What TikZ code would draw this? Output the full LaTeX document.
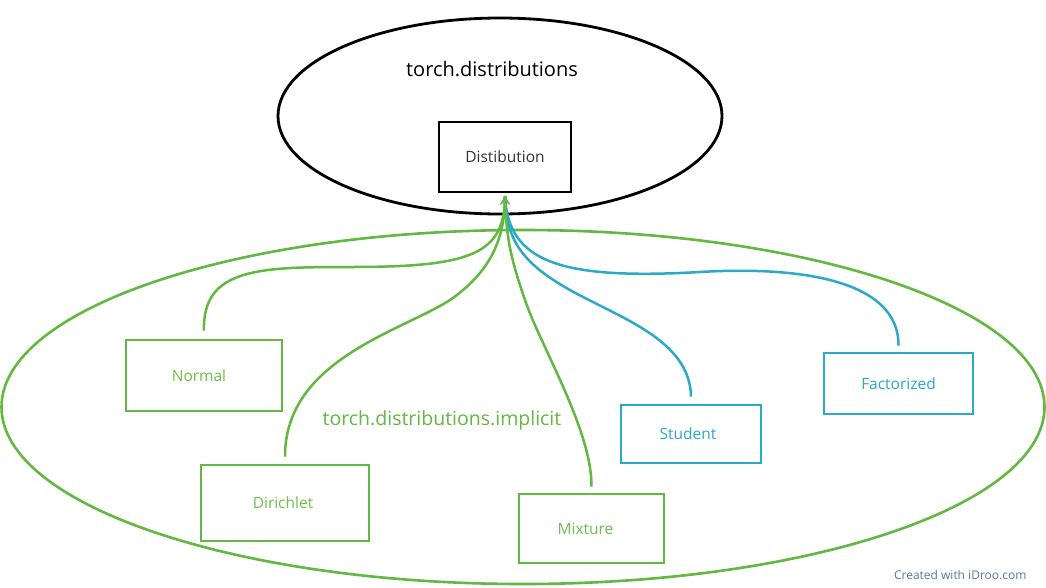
\documentclass[tikz,border=0pt]{standalone}
\usepackage{fontspec}
\setmainfont{Open Sans}
\usetikzlibrary{arrows.meta}
\definecolor{grn}{HTML}{62B840}
\definecolor{grntxt}{HTML}{6CC04C}
\definecolor{blu}{HTML}{2AAAC6}
\definecolor{gry}{HTML}{333333}
\definecolor{wm}{HTML}{5E7A96}
\tikzset{
  gbox/.style={draw=grn,line width=2.8pt,inner sep=0pt,text=grntxt,font=\fontsize{15.5}{18}\selectfont},
  bbox/.style={draw=blu,line width=2.8pt,inner sep=0pt,text=blu,font=\fontsize{15.5}{18}\selectfont},
  glink/.style={draw=grn,line width=2.5pt},
  blink/.style={draw=blu,line width=2.5pt},
}
\begin{document}
\begin{tikzpicture}[x=1pt,y=-1pt]
\useasboundingbox[fill=white] (0,0) rectangle (1046,587);
% outer ellipses
\draw[line width=2.8pt,black] (500,116) ellipse [x radius=222, y radius=98];
\draw[line width=2.6pt,grn] (523,407) ellipse [x radius=521.5, y radius=177];
\node[font=\fontsize{20}{22}\selectfont,text=black] (top) at (492,69) {torch.distributions};
\node[draw=black,line width=2.8pt,minimum width=132pt,minimum height=70pt,inner sep=0pt,text=gry,font=\fontsize{15.5}{18}\selectfont] (dist) at (505,157) {Distibution};
\coordinate (tip) at (505,196);
\node[text=grn,font=\fontsize{19.5}{22}\selectfont] (impl) at (442,420) {torch.distributions.implicit};
% boxes
\node[gbox,minimum width=156pt,minimum height=71pt] (normal) at (204,375.5) {\hspace*{-10pt}Normal};
\node[gbox,minimum width=168pt,minimum height=76pt] (dirichlet) at (285,503) {\hspace*{-4pt}Dirichlet};
\node[gbox,minimum width=145pt,minimum height=69pt] (mixture) at (591.5,528.5) {\hspace*{-12pt}Mixture};
\node[bbox,minimum width=140pt,minimum height=58pt] (student) at (691,434) {\hspace*{-6pt}Student};
\node[bbox,minimum width=149pt,minimum height=61pt] (factorized) at (898.5,383.5) {Factorized};
% connectors
\draw[blink] ([yshift=6pt]factorized.north) .. controls (899,280) and (800,266) .. (700,272) .. controls (560,280) and (508,262) .. (tip);
\draw[blink] ([yshift=7pt]student.north) .. controls (690,340) and (620,318) .. (570,290) .. controls (522,263) and (506,240) .. (tip);
\draw[glink] ([yshift=8pt]normal.north) .. controls (202,268) and (260,267) .. (350,267) .. controls (470,267) and (505,255) .. (tip);
\draw[glink] ([yshift=7pt]dirichlet.north) .. controls (285,360) and (400,332) .. (450,300) .. controls (490,272) and (505,240) .. (tip);
\draw[glink] ([yshift=6pt]mixture.north) .. controls (592,430) and (540,345) .. (525,300) .. controls (512,262) and (506,240) .. (tip);
\draw[grn,line width=2.5pt,-{Stealth[length=9pt,width=11pt]}] ([yshift=-12pt]tip) -- (tip);
\node[text=wm,font=\fontsize{12}{14}\selectfont,anchor=east] (mark) at (1030,575) {Created with iDroo.com};
\end{tikzpicture}
\end{document}
